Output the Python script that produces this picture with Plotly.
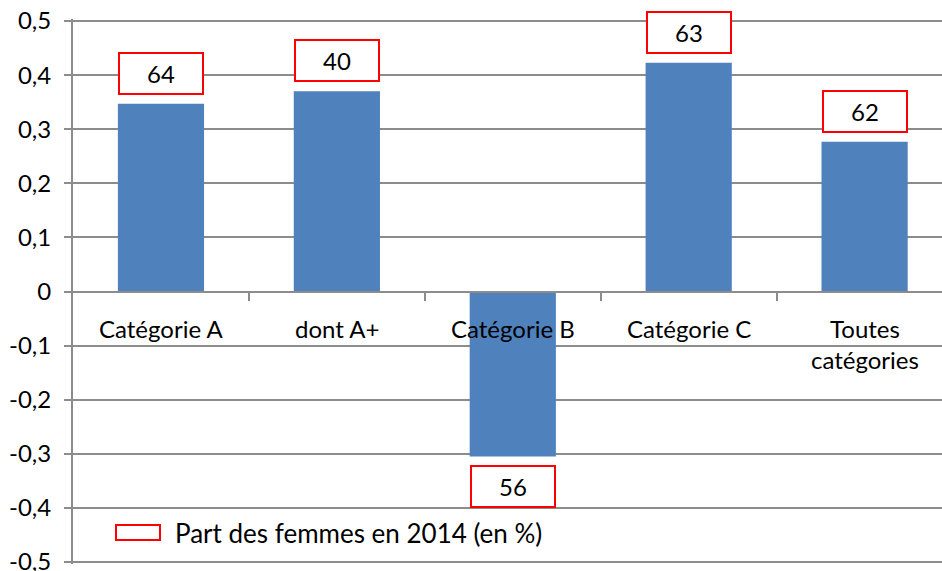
import plotly.graph_objects as go

categories = ["Catégorie A", "dont A+", "Catégorie B", "Catégorie C", "Toutes<br>catégories"]
values = [0.347, 0.37, -0.305, 0.423, 0.277]
share_women = [64, 40, 56, 63, 62]
legend_label = "Part des femmes en 2014 (en %)"
y_ticks = [0.5, 0.4, 0.3, 0.2, 0.1, 0, -0.1, -0.2, -0.3, -0.4, -0.5]
y_tick_labels = ["0,5", "0,4", "0,3", "0,2", "0,1", "0", "-0,1", "-0,2", "-0,3", "-0,4", "-0,5"]

FONT = "Lato, 'Open Sans', sans-serif"
FS = 24
GRID = "#8c8c8c"

W, H = 942, 571
PADPX = 2  # extend plot area by 2px at both ends so the edge gridlines are drawn
PX0, PX1, PY0, PY1 = 73, 942, 21 - PADPX, 562 + PADPX  # plot area in window pixels
L, T, B = PX0, PY0, H - PY1
EPS = PADPX / 541


def px(x):
    return (x - PX0) / (PX1 - PX0)


def py(y):
    return 1 - (y - PY0) / (PY1 - PY0)


fig = go.Figure()
fig.add_trace(go.Bar(
    x=list(range(len(categories))), y=values,
    marker=dict(color="#4F81BD", line=dict(width=0)),
    width=0.49, showlegend=False, hoverinfo="skip",
))

annotations = []
for i, (cat, v, s) in enumerate(zip(categories, values, share_women)):
    annotations.append(dict(
        x=i, y=0, xref="x", yref="y", text=cat, showarrow=False,
        yanchor="top", yshift=-20, font=dict(family=FONT, size=FS, color="black"),
    ))
    annotations.append(dict(
        x=i, y=v, xref="x", yref="y", text=str(s), showarrow=False,
        yanchor="bottom" if v >= 0 else "top", yshift=9 if v >= 0 else -8,
        width=78, height=35, borderpad=2, borderwidth=2,
        bordercolor="#ff0000", bgcolor="white",
        font=dict(family=FONT, size=FS, color="black"),
    ))

annotations.append(dict(
    x=px(173), y=py(533), xref="paper", yref="paper", text=legend_label, showarrow=False,
    xanchor="left", yanchor="middle", font=dict(family=FONT, size=26, color="black"),
))

fig.update_layout(
    width=W, height=H,
    margin=dict(l=L, r=0, t=T, b=B, pad=0, autoexpand=False),
    plot_bgcolor="white", paper_bgcolor="white",
    font=dict(family=FONT, size=FS, color="black"),
    xaxis=dict(
        range=[-0.5, 4.44], showgrid=False, zeroline=False, automargin=False,
        showticklabels=False, showline=True, linecolor=GRID, linewidth=2,
        anchor="free", position=0.5,
        tickmode="array", tickvals=[0.5, 1.5, 2.5, 3.5], ticks="outside",
        ticklen=8, tickcolor=GRID, tickwidth=2,
    ),
    yaxis=dict(
        range=[-0.5 - EPS, 0.5 + EPS], tickmode="array", tickvals=y_ticks, ticktext=y_tick_labels,
        showgrid=True, gridcolor=GRID, gridwidth=2, zeroline=False, automargin=False,
        showline=True, linecolor=GRID, linewidth=2,
        ticks="outside", ticklen=7, tickcolor=GRID, tickwidth=2,
        tickfont=dict(family=FONT, size=FS, color="black"), ticklabelstandoff=8,
        ticklabeloverflow="allow",
    ),
    annotations=annotations,
)

fig.add_shape(
    type="rect", xref="paper", yref="paper",
    x0=px(116), x1=px(160), y0=py(540), y1=py(525),
    line=dict(color="#ff0000", width=2), fillcolor="white",
)

fig.write_html(
    "out.html",
    config={"displayModeBar": False},
    post_script="document.body.style.margin='0';document.body.style.overflow='hidden';",
)
